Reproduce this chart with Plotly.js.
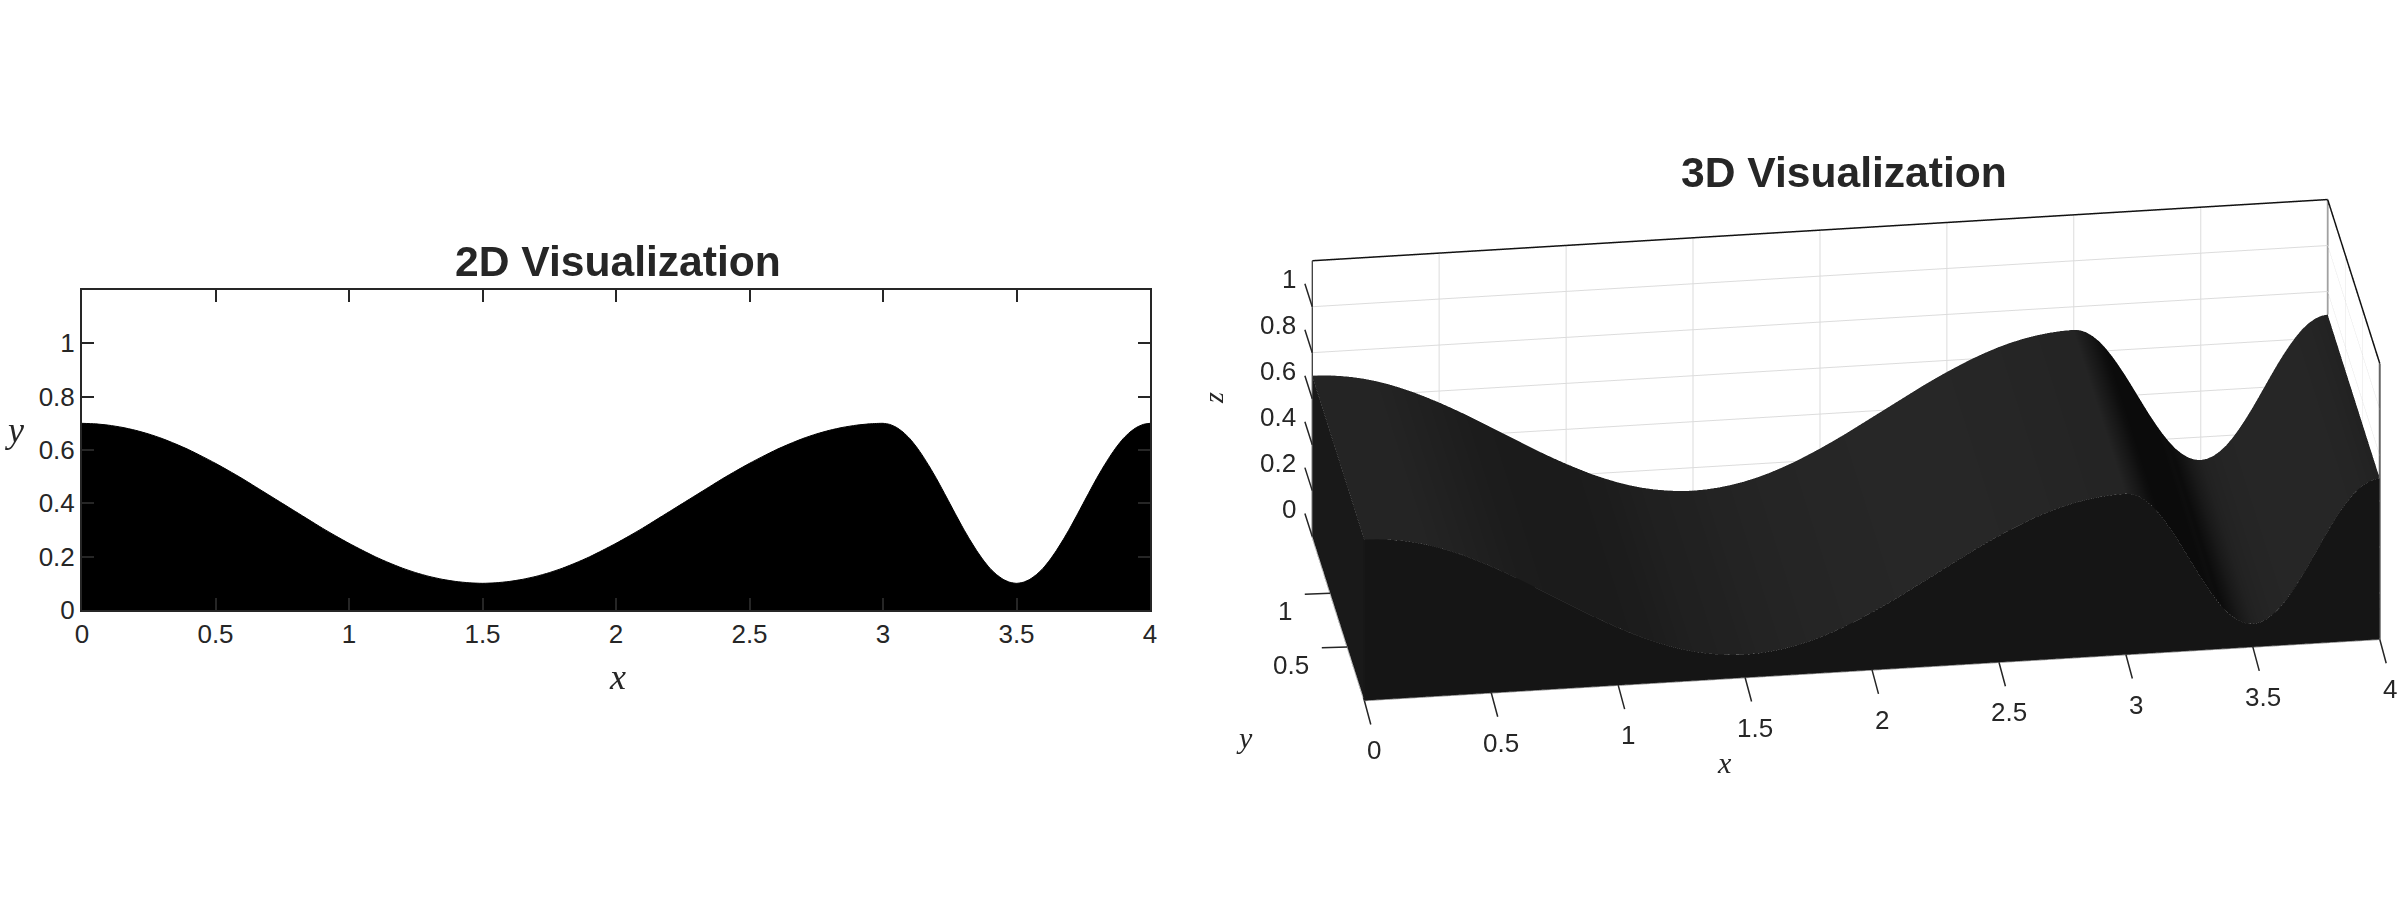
<!DOCTYPE html>
<html><head><meta charset="utf-8">
<script src="https://cdn.plot.ly/plotly-3.0.1.min.js"></script>
<style>html,body{margin:0;padding:0;background:#fff}</style></head>
<body><div id="chart" style="width:2400px;height:900px"></div>
<script>
const xCoarse=[0,.05,.1,.15,.2,.25,.3,.35,.4,.45,.5,.55,.6,.65,.7,.75,.8,.85,.9,.95,1,1.05,1.1,1.15,1.2,1.25,1.3,1.35,1.4,1.45,1.5,1.55,1.6,1.65,1.7,1.75,1.8,1.85,1.9,1.95,2,2.05,2.1,2.15,2.2,2.25,2.3,2.35,2.4,2.45,2.5,2.55,2.6,2.65,2.7,2.75,2.8,2.85,2.9,2.95,3];
const xFine=[3.025,3.05,3.075,3.1,3.125,3.15,3.175,3.2,3.225,3.25,3.275,3.3,3.325,3.35,3.375,3.4,3.425,3.45,3.475,3.5,3.525,3.55,3.575,3.6,3.625,3.65,3.675,3.7,3.725,3.75,3.775,3.8,3.825,3.85,3.875,3.9,3.925,3.95,3.975,4];
const heightCoarse=[.7,.698,.693,.685,.674,.66,.643,.623,.601,.576,.55,.522,.493,.462,.431,.4,.369,.338,.307,.278,.25,.224,.199,.177,.157,.14,.126,.115,.107,.102,.1,.102,.107,.115,.126,.14,.157,.177,.199,.224,.25,.278,.307,.338,.369,.4,.431,.462,.493,.522,.55,.576,.601,.623,.643,.66,.674,.685,.693,.698,.7];
const heightFine=[.696,.685,.667,.643,.612,.576,.536,.493,.447,.4,.353,.307,.264,.224,.188,.157,.133,.115,.104,.1,.104,.115,.133,.157,.188,.224,.264,.307,.353,.4,.447,.493,.536,.576,.612,.643,.667,.685,.696,.7];
const shadeCoarse=[36,36,36,36,36,36,35,34,33,32,31,30,29,28,28,27,27,27,27,27,27,28,28,29,30,31,32,32,33,33,34,35,35,36,36,37,37,37,38,38,38,38,39,39,39,39,39,39,39,39,39,38,38,38,38,37,37,37,36,36,36];
const shadeFine=[30,25,20,15,12,11,11,11,11,11,11,11,12,14,12,16,20,25,29,33,35,36,37,37,38,38,38,38,38,38,38,38,38,38,38,37,37,36,35,34];
const xTicks=[0,.5,1,1.5,2,2.5,3,3.5,4];
const xTickText=['0','0.5','1','1.5','2','2.5','3','3.5','4'];
const y2Ticks=[0,.2,.4,.6,.8,1];
const y2TickText=['0','0.2','0.4','0.6','0.8','1'];
const y3Ticks=[.5,1];
const y3TickText=['0.5','1'];
const zTicks=[0,.2,.4,.6,.8,1];
const zTickText=['0','0.2','0.4','0.6','0.8','1'];
const depthMax=1.53, zMax=1.2;
const frontShade=21, leftShade=25;

const xs=xCoarse.concat(xFine), hs=heightCoarse.concat(heightFine), shade=shadeCoarse.concat(shadeFine);
const gray={colorscale:[[0,'#000000'],[1,'#ffffff']],cmin:0,cmax:255,showscale:false,hoverinfo:'skip',
  lighting:{ambient:1,diffuse:0,specular:0,roughness:1,fresnel:0},contours:{x:{show:false},y:{show:false},z:{show:false}},scene:'scene'};
const zeros=xs.map(()=>0);
const topFace={type:'surface',x:xs,y:[0,depthMax],z:[hs,hs],surfacecolor:[shade,shade],...gray};
const frontFace={type:'surface',x:[xs,xs],y:[zeros,zeros],z:[zeros,hs],surfacecolor:[xs.map(()=>frontShade),xs.map(()=>frontShade)],...gray};
const leftFace={type:'surface',x:[[0,0],[0,0]],y:[[0,depthMax],[0,depthMax]],z:[[0,0],[hs[0],hs[0]]],surfacecolor:[[leftShade,leftShade],[leftShade,leftShade]],...gray};
function edge(x,y,z,c,w){return {type:'scatter3d',mode:'lines',x,y,z,line:{color:c,width:w},hoverinfo:'skip',showlegend:false,scene:'scene'};}
const edges=[
 edge([0,4],[depthMax,depthMax],[zMax,zMax],'#111111',3),
 edge([4,4],[depthMax,0],[zMax,zMax],'#111111',3),
 edge([0,0],[depthMax,depthMax],[0,zMax],'#111111',3),
 edge([4,4],[depthMax,depthMax],[hs[hs.length-1],zMax],'#666666',3),
 edge([4,4],[0,0],[0,zMax],'#666666',4),
 edge([0,0],[0,0],[0,hs[0]],'#171717',4),
 edge([0,4],[0,0],[0,0],'#888888',3),
 edge([0,0],[0,depthMax],[0,0],'#666666',3)
];
const area={type:'scatter',x:xs,y:hs,mode:'lines',fill:'tozeroy',fillcolor:'#000000',line:{color:'#000000',width:1,shape:'spline',smoothing:.6},hoverinfo:'skip',showlegend:false,xaxis:'x',yaxis:'y'};

const tickFont={family:'Liberation Sans, Arial, sans-serif',size:26,color:'#262626'};
function note(text,x,y,size,opts){return Object.assign({text,x,y,xref:'paper',yref:'paper',xanchor:'center',yanchor:'middle',showarrow:false,
  font:{family:'Liberation Serif, serif',size,color:'#262626'}},opts||{});}
const titleFont={family:'Liberation Sans, Arial, sans-serif',size:42.6,color:'#262626'};
const sceneAxis={showbackground:false,showgrid:true,gridcolor:'#dcdcdc',gridwidth:2,zeroline:false,showline:false,
  ticks:'',showticklabels:false,showspikes:false,title:{text:''}};
function sceneLabels(vals,texts,pos,anchor,dx,dy){return vals.map((v,i)=>{const p=pos(v);return {x:p[0],y:p[1],z:p[2],text:texts[i],showarrow:false,
  xanchor:anchor,yanchor:'middle',xshift:dx,yshift:dy,font:tickFont};});}
function sceneTicks(vals,pos,ax,ay){return vals.map(v=>{const p=pos(v);return {x:p[0],y:p[1],z:p[2],text:' ',font:{size:1},showarrow:true,arrowhead:0,
  arrowwidth:1.5,arrowcolor:'#262626',standoff:0,startstandoff:0,ax,ay};});}
const xAt=v=>[v,0,0], yAt=v=>[0,v,0], zAt=v=>[0,depthMax,v];
const sceneAnn=[].concat(
  sceneTicks(xTicks,xAt,7,26),
  sceneTicks(y3Ticks,yAt,-27,1),
  sceneTicks(zTicks,zAt,-8,-25),
  sceneLabels(xTicks,xTickText,xAt,'center',10,-50),
  sceneLabels(y3Ticks,y3TickText,yAt,'right',-36,-18),
  sceneLabels(zTicks,zTickText,zAt,'right',-14,28));
const layout={width:2400,height:900,margin:{l:0,r:0,t:0,b:0},paper_bgcolor:'#fff',plot_bgcolor:'#fff',showlegend:false,
  xaxis:{domain:[82/2400,1150/2400],range:[0,4],tickvals:xTicks,ticktext:xTickText,ticks:'inside',ticklen:12,tickwidth:2,tickcolor:'#262626',
    showline:true,linecolor:'#262626',linewidth:2,mirror:'ticks',showgrid:false,zeroline:false,tickfont:tickFont},
  yaxis:{domain:[290/900,610/900],range:[0,1.2],tickvals:y2Ticks,ticktext:y2TickText,ticks:'inside',ticklen:12,tickwidth:2,tickcolor:'#262626',
    showline:true,linecolor:'#262626',linewidth:2,mirror:'ticks',showgrid:false,zeroline:false,tickfont:tickFont},
  scene:{domain:{x:[1292/2400,1],y:[0,1]},bgcolor:'#fff',aspectmode:'manual',aspectratio:{x:2.278,y:.844,z:.681},
    camera:{eye:{x:-.4936,y:-3.566,z:1.742},up:{x:0,y:0,z:1},center:{x:0,y:0,z:0},projection:{type:'orthographic'}},
    xaxis:{...sceneAxis,range:[0,4],tickvals:xTicks,ticktext:xTickText},
    yaxis:{...sceneAxis,range:[0,depthMax],tickvals:y3Ticks,ticktext:y3TickText},
    zaxis:{...sceneAxis,range:[0,zMax],tickvals:zTicks,ticktext:zTickText},
    annotations:sceneAnn},
  annotations:[
    {text:'<b>2D Visualization</b>',x:618/2400,y:1-261/900,xref:'paper',yref:'paper',showarrow:false,font:titleFont,xanchor:'center',yanchor:'middle'},
    {text:'<b>3D Visualization</b>',x:1844/2400,y:1-172/900,xref:'paper',yref:'paper',showarrow:false,font:titleFont,xanchor:'center',yanchor:'middle'},
    note('<i>x</i>',617/2400,1-677/900,36),
    note('<i>y</i>',14/2400,1-430/900,36),
    note('<i>x</i>',1724/2400,1-762/900,30),
    note('<i>y</i>',1244/2400,1-737/900,30),
    note('<i>z</i>',1213/2400,1-398/900,28,{textangle:-90})
  ]};
Plotly.newPlot('chart',[area,topFace,frontFace,leftFace,...edges],layout,{displayModeBar:false});
</script></body></html>
